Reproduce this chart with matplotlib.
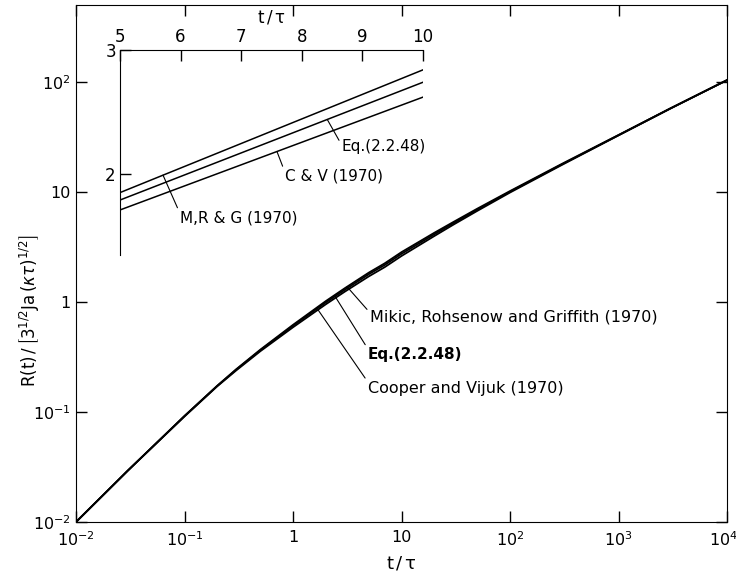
import numpy as np
import matplotlib
matplotlib.use('Agg')
import matplotlib.pyplot as plt
from matplotlib.transforms import ScaledTranslation

# dimensionless time t/tau
t = [0.01, 0.03, 0.1, 0.2, 0.3, 0.5, 1, 2, 3, 5, 7, 10, 20, 30, 50, 100,
     300, 1000, 3000, 10000]

# dimensionless bubble radius for each model
r_mrg = [0.01, 0.0293, 0.092, 0.173, 0.245, 0.369, 0.62, 1.017, 1.334, 1.85,
         2.246, 2.84, 4.25, 5.33, 7.06, 10.2, 18.0, 33.0, 57.5, 104]
r_eq = [0.01, 0.0293, 0.092, 0.1725, 0.243, 0.364, 0.608, 0.989, 1.291, 1.79,
        2.17, 2.74, 4.12, 5.20, 6.92, 10.05, 17.8, 32.8, 57.5, 104]
r_cv = [0.01, 0.0293, 0.091, 0.171, 0.239, 0.357, 0.589, 0.951, 1.241, 1.71,
        2.074, 2.62, 3.97, 5.04, 6.74, 9.89, 17.6, 32.7, 57.2, 104]

x_ticks = [1e-2, 1e-1, 1, 10, 1e2, 1e3, 1e4]
x_ticklabels = [r'$10^{-2}$', r'$10^{-1}$', '1', '10', r'$10^{2}$', r'$10^{3}$', r'$10^{4}$']
y_ticks = [1e-2, 1e-1, 1, 10, 1e2]
y_ticklabels = [r'$10^{-2}$', r'$10^{-1}$', '1', '10', r'$10^{2}$']

inset_xticks = [5, 6, 7, 8, 9, 10]
inset_yticks = [2, 3]


def on_curve(r, t0):
    # value of a curve at t0, interpolated in log-log space
    return 10 ** np.interp(np.log10(t0), np.log10(t), np.log10(r))


def lin_on_curve(r, t0):
    return np.interp(t0, t, r)


plt.rcParams['font.family'] = 'DejaVu Sans'
plt.rcParams['mathtext.fontset'] = 'dejavusans'

W, H = 736, 577
fig = plt.figure(figsize=(W / 100, H / 100), dpi=100)

# main log-log plot
ax = fig.add_axes([76 / W, 1 - 522 / H, (727 - 76) / W, (522 - 5) / H])
ax.set_xscale('log')
ax.set_yscale('log')
for r in (r_mrg, r_eq, r_cv):
    ax.plot(t, r, color='black', lw=1.3)
ax.set_xlim(1e-2, 1e4)
ax.set_ylim(1e-2, 10 ** 2.7)
ax.set_xticks(x_ticks)
ax.set_xticklabels(x_ticklabels)
ax.set_yticks(y_ticks)
ax.set_yticklabels(y_ticklabels)
ax.minorticks_off()
ax.tick_params(which='major', direction='in', top=True, right=True,
               length=8, width=1, labelsize=11.5, pad=6)
ax.tick_params(axis='y', pad=4)
# keep the last label inside the figure
last = ax.get_xticklabels()[-1]
last.set_transform(last.get_transform() + ScaledTranslation(-4 / 100, 0, fig.dpi_scale_trans))
ax.set_xlabel(r'$\mathrm{t\,/\,\tau}$', fontsize=13, labelpad=4)
fig.text(30 / W, 1 - 311 / H,
         r'$\mathrm{R(t)\,/\,}\left[3^{1/2}\mathrm{Ja}\,(\kappa\tau)^{1/2}\right]$',
         rotation=90, ha='center', va='center', fontsize=12)

lead = dict(arrowstyle='-', color='black', lw=0.8, shrinkA=0, shrinkB=0)
ax.annotate('Mikic, Rohsenow and Griffith (1970)',
            xy=(3.15, on_curve(r_mrg, 3.15)), xytext=(5.1, 0.73),
            fontsize=11.5, va='center', ha='left',
            arrowprops=dict(lead, relpos=(0, 0.8)))
ax.annotate('Eq.(2.2.48)',
            xy=(2.44, on_curve(r_eq, 2.44)), xytext=(4.9, 0.33),
            fontsize=11, fontweight='bold', va='center', ha='left',
            arrowprops=dict(lead, relpos=(0, 0.9)))
ax.annotate('Cooper and Vijuk (1970)',
            xy=(1.70, on_curve(r_cv, 1.70)), xytext=(4.9, 0.165),
            fontsize=11.5, va='center', ha='left',
            arrowprops=dict(lead, relpos=(0, 0.9)))

# linear inset for 5 < t/tau < 10
axin = fig.add_axes([120 / W, 1 - 255 / H, 303 / W, 205 / H])
axin.set_facecolor('none')
for r in (r_mrg, r_eq, r_cv):
    axin.plot(t, r, color='black', lw=1.1)
axin.set_xlim(5, 10)
axin.set_ylim(3 - 205 / 124, 3)
axin.spines['right'].set_visible(False)
axin.spines['bottom'].set_visible(False)
axin.xaxis.tick_top()
axin.xaxis.set_label_position('top')
axin.set_xticks(inset_xticks)
axin.set_yticks(inset_yticks)
axin.tick_params(direction='in', length=8, width=1, labelsize=12, pad=3)
axin.set_xlabel(r'$\mathrm{t\,/\,\tau}$', fontsize=12, labelpad=4)

axin.annotate('M,R & G (1970)', xy=(5.71, lin_on_curve(r_mrg, 5.71)),
              xytext=(5.99, 1.645), fontsize=11, va='center', ha='left',
              arrowprops=dict(lead, relpos=(0, 0.8)))
axin.annotate('C & V (1970)', xy=(7.59, lin_on_curve(r_cv, 7.59)),
              xytext=(7.72, 1.98), fontsize=11, va='center', ha='left',
              arrowprops=dict(lead, relpos=(0, 0.8)))
axin.annotate('Eq.(2.2.48)', xy=(8.42, lin_on_curve(r_eq, 8.42)),
              xytext=(8.66, 2.22), fontsize=11, va='center', ha='left',
              arrowprops=dict(lead, relpos=(0, 0.6)))

fig.savefig('out.png', dpi=100)
